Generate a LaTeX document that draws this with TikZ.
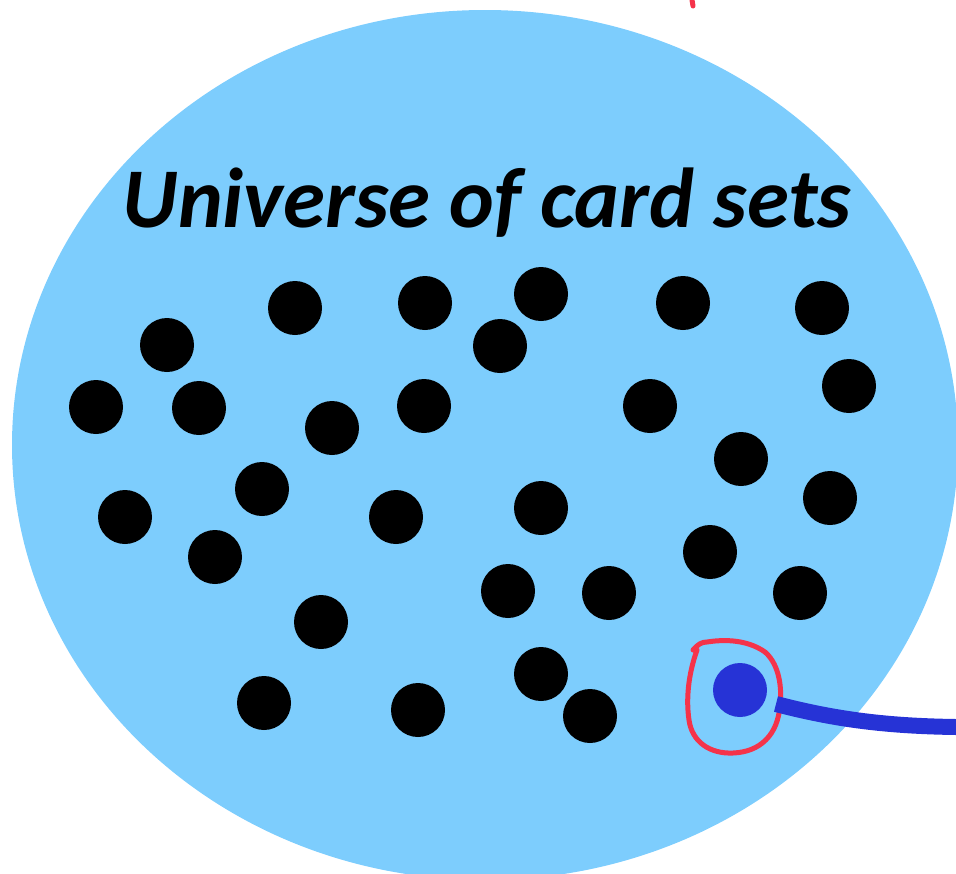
\documentclass[tikz,border=0pt]{standalone}
\usepackage{fontspec}
\setmainfont{Carlito}
\definecolor{univ}{HTML}{7DCDFD}
\definecolor{selblue}{HTML}{2633D6}
\definecolor{penred}{HTML}{F5334A}
\begin{document}
\begin{tikzpicture}[x=1pt,y=-1pt,
  dot/.style={circle,fill=black,minimum size=54pt,inner sep=0pt},
  seldot/.style={circle,fill=selblue,minimum size=54pt,inner sep=0pt},
  pen/.style={draw=penred,line width=5pt,line cap=round,line join=round}]
\useasboundingbox (0,0) rectangle (956,873);
\begin{scope}
\clip (0,0) rectangle (956,873);
\fill[univ] (485,445) ellipse [x radius=473, y radius=435];
\draw[pen] (692,0) -- (693,6);
\end{scope}
\node[font=\bfseries\itshape\fontsize{85}{90}\selectfont] (title) at (487,203) {Universe of card sets};
\foreach \x/\y [count=\i] in {295/308,425/303,541/294,683/303,822/308,167/345,500/346,849/386,96/407,199/408,332/428,424/406,650/406,741/459,262/489,125/517,396/517,541/508,830/498,215/557,710/552,508/591,609/593,800/593,321/622,541/674,264/703,418/710,590/716}
  \node[dot] (d\i) at (\x,\y) {};
\node[seldot] (sel) at (740,690) {};
\draw[pen] (693,650) .. controls (698,644) and (702,642) .. (707,642)
  .. controls (720,640) and (745,638) .. (765,652)
  .. controls (780,665) and (782,690) .. (780,705)
  .. controls (778,735) and (760,752) .. (733,753)
  .. controls (710,754) and (692,742) .. (689,720)
  .. controls (686,700) and (688,675) .. (697,650);
\coordinate (start) at (776,704);
\coordinate (out) at (956,727);
\draw[selblue,line width=16pt] (start) .. controls (830,718) and (880,726) .. (out);
\end{tikzpicture}
\end{document}
